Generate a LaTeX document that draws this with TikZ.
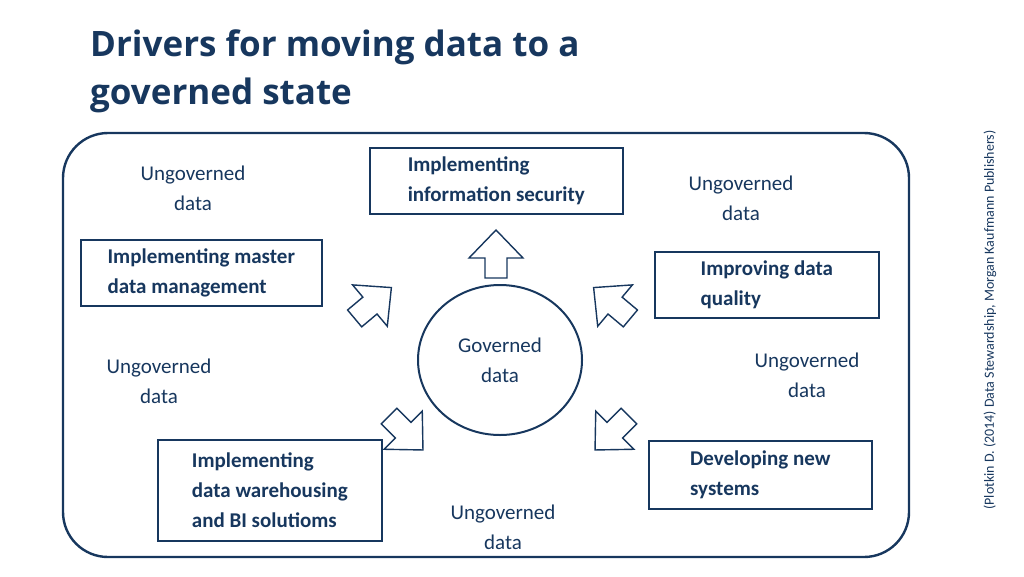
\documentclass[tikz,border=0pt]{standalone}
\usepackage{fontspec}
\setmainfont{Carlito}
\newfontfamily\titlefont{Open Sans}
\usetikzlibrary{shapes.geometric}
\definecolor{navy}{HTML}{17375E}
\begin{document}
\begin{tikzpicture}[x=1pt,y=-1pt,
  box/.style={draw=navy,line width=1.6pt,fill=white,text=navy,font=\fontsize{21}{30}\selectfont\bfseries,align=left,inner xsep=10pt,anchor=north west},
  ug/.style={text=navy,font=\fontsize{21}{30}\selectfont,align=center},
  blk/.pic={\draw[navy,line width=1.4pt,fill=white,line join=miter]
     (-24,11)--(-4,11)--(-4,27)--(24,0)--(-4,-27)--(-4,-11)--(-24,-11)--cycle;}]
\useasboundingbox (0,0) rectangle (1024,576);
\node[anchor=north west,text=navy,font=\titlefont\fontsize{35}{48}\selectfont\bfseries,align=left,inner sep=0] (title) at (90,30) {Drivers for moving data to a\\governed state};
\node[draw=navy,line width=2.4pt,rounded corners=45pt,minimum width=846pt,minimum height=424pt] (frame) at (486,345) {};
\node[ellipse,draw=navy,line width=2pt,minimum width=164pt,minimum height=150pt,ug] (gov) at (500,360) {Governed\\data};
\node[box,minimum width=253pt,minimum height=66pt] (sec) at (369,147) {Implementing\\information security};
\node[box,minimum width=241pt,minimum height=66pt,inner xsep=8pt] (mdm) at (80,239) {Implementing master\\data management};
\node[box,minimum width=224pt,minimum height=66pt,inner xsep=24pt] (dq) at (654,251) {Improving data\\quality};
\node[box,minimum width=224pt,minimum height=101pt] (dw) at (157,439) {Implementing\\data warehousing\\and BI solutioms};
\node[box,minimum width=223pt,minimum height=68pt,inner xsep=22pt] (ns) at (648,440) {Developing new\\systems};
\node[ug] (u1) at (193,188) {Ungoverned\\data};
\node[ug] (u2) at (741,198) {Ungoverned\\data};
\node[ug] (u3) at (159,381) {Ungoverned\\data};
\node[ug] (u4) at (807,375) {Ungoverned\\data};
\node[ug] (u5) at (503,527) {Ungoverned\\data};
\pic[rotate=90] at (496,254) {blk};
\pic[rotate=40] at (373,303) {blk};
\pic[rotate=140] at (612,303) {blk};
\pic[rotate=-45] at (406,433) {blk};
\pic[rotate=-135] at (612,433) {blk};
\node[rotate=90,text=navy,font=\fontsize{14}{16}\selectfont] (cite) at (990,320) {(Plotkin D. (2014) Data Stewardship, Morgan Kaufmann Publishers)};
\end{tikzpicture}
\end{document}
